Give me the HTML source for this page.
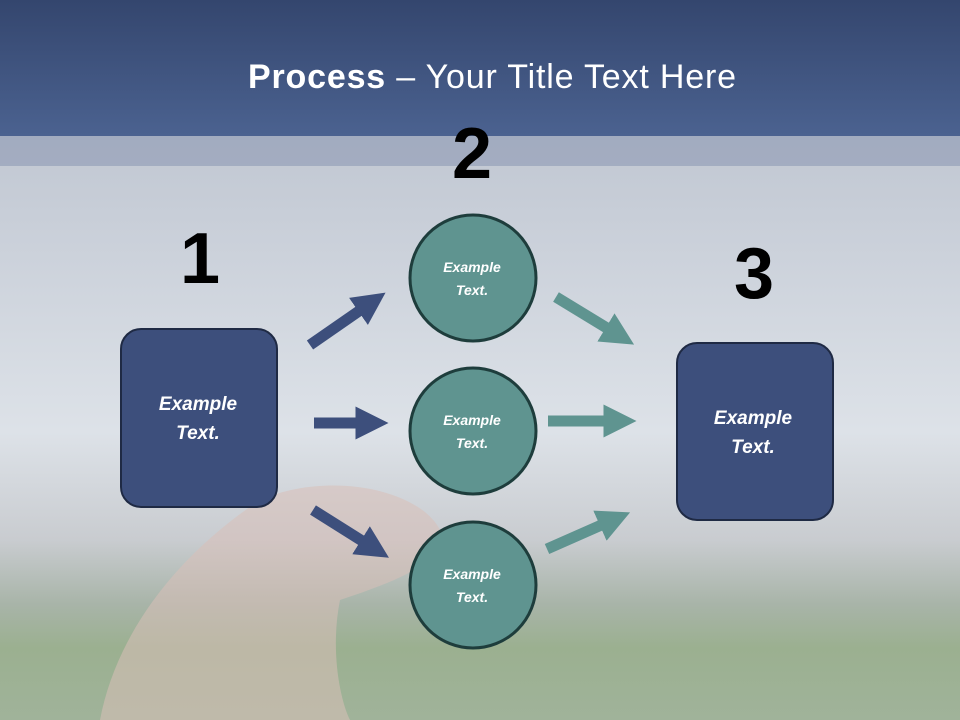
<!DOCTYPE html>
<html><head><style>
html,body{margin:0;padding:0;width:960px;height:720px;overflow:hidden}
body{font-family:"Liberation Sans",sans-serif}
</style></head><body>
<svg width="960" height="720" viewBox="0 0 960 720" xmlns="http://www.w3.org/2000/svg">
<defs>
<linearGradient id="bg" x1="0" y1="0" x2="0" y2="1">
<stop offset="0" stop-color="#b4bcc8"/>
<stop offset="0.3" stop-color="#c8ced8"/>
<stop offset="0.6" stop-color="#dde2e8"/>
<stop offset="0.75" stop-color="#c9ccd0"/>
<stop offset="0.84" stop-color="#a8b4a8"/>
<stop offset="0.9" stop-color="#9bb090"/>
<stop offset="1" stop-color="#a0b39a"/>
</linearGradient>
<linearGradient id="hd" x1="0" y1="0" x2="0" y2="1">
<stop offset="0" stop-color="#34466e"/>
<stop offset="1" stop-color="#4b6290"/>
</linearGradient>
<marker id="ab" viewBox="0 0 10 10" refX="5" refY="5" markerWidth="3" markerHeight="3" orient="auto"><path d="M0,0L10,5L0,10z" fill="#3d4f7c"/></marker>
<marker id="at" viewBox="0 0 10 10" refX="5" refY="5" markerWidth="3" markerHeight="3" orient="auto"><path d="M0,0L10,5L0,10z" fill="#5f9490"/></marker>
</defs>
<rect width="960" height="720" fill="url(#bg)"/>
<path d="M100,720 C115,640 170,560 260,500 C330,470 420,490 440,530 C450,560 400,580 340,600 C330,650 340,700 350,720Z" fill="#d8c0b8" opacity="0.55"/>
<rect y="0" width="960" height="136" fill="url(#hd)"/>
<rect y="136" width="960" height="30" fill="#8e9ab4" opacity="0.6"/>
<text x="492" y="88" text-anchor="middle" font-size="34" textLength="488" fill="#fff"><tspan font-weight="bold">Process</tspan> – Your Title Text Here</text>
<g font-weight="bold" font-size="72" text-anchor="middle" fill="#000">
<text x="200" y="283">1</text><text x="472" y="178">2</text><text x="754" y="298">3</text>
</g>
<g stroke="#3d4f7c" stroke-width="11" marker-end="url(#ab)">
<line x1="310" y1="345" x2="372" y2="302"/>
<line x1="314" y1="423" x2="372" y2="423"/>
<line x1="313" y1="510" x2="375" y2="549"/>
</g>
<g stroke="#5f9490" stroke-width="11" marker-end="url(#at)">
<line x1="556" y1="297" x2="620" y2="336"/>
<line x1="548" y1="421" x2="620" y2="421"/>
<line x1="547" y1="549" x2="615" y2="519"/>
</g>
<rect x="121" y="329" width="156" height="178" rx="20" fill="#3d4f7c" stroke="#1f2a44" stroke-width="2"/>
<rect x="677" y="343" width="156" height="177" rx="20" fill="#3d4f7c" stroke="#1f2a44" stroke-width="2"/>
<g fill="#5f9490" stroke="#1e3d3c" stroke-width="3">
<ellipse cx="473" cy="278" rx="63" ry="63"/>
<ellipse cx="473" cy="431" rx="63" ry="63"/>
<ellipse cx="473" cy="585" rx="63" ry="63"/>
</g>
<g fill="#fff" font-weight="bold" font-style="italic" text-anchor="middle">
<text x="198" y="410" font-size="19">Example</text><text x="198" y="439" font-size="19">Text.</text>
<text x="753" y="424" font-size="19">Example</text><text x="753" y="453" font-size="19">Text.</text>
<g font-size="14">
<text x="472" y="272">Example</text><text x="472" y="295">Text.</text>
<text x="472" y="425">Example</text><text x="472" y="448">Text.</text>
<text x="472" y="579">Example</text><text x="472" y="602">Text.</text>
</g></g>
</svg>
</body></html>
